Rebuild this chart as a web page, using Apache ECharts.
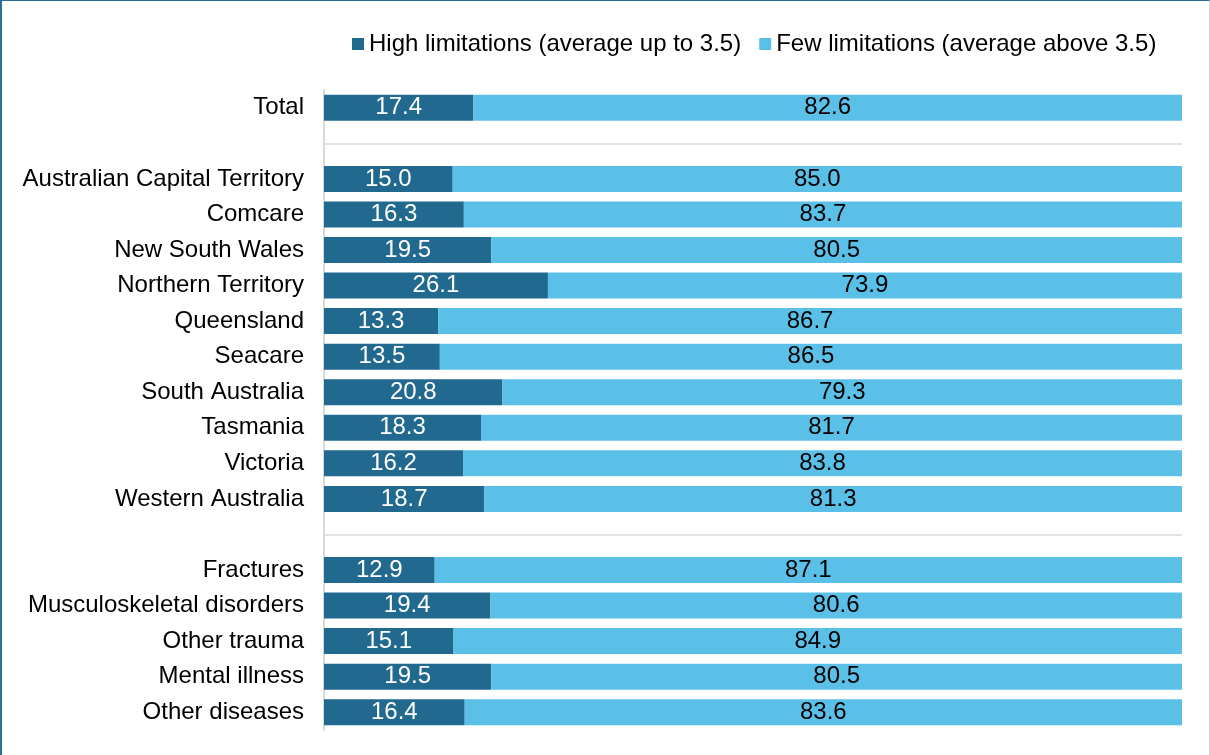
<!DOCTYPE html>
<html>
<head>
<meta charset="utf-8">
<script src="https://cdn.jsdelivr.net/npm/echarts@6/dist/echarts.min.js"></script>
<style>
html, body { margin: 0; padding: 0; background: #fff; }
#chart {
    position: absolute; left: 0; top: 0;
    width: 1207px; height: 754px;
    border-left: 2px solid #2a6f9c;
    border-top: 1px solid #2a6f9c;
    border-right: 1px solid #cdd6df;
}
</style>
</head>
<body>
<div id="chart"></div>
<script>
// rows top to bottom; blank names are the spacer rows between groups
var categories = ['Total', ' ',
    'Australian Capital Territory', 'Comcare', 'New South Wales', 'Northern Territory',
    'Queensland', 'Seacare', 'South Australia', 'Tasmania', 'Victoria', 'Western Australia', '  ',
    'Fractures', 'Musculoskeletal disorders', 'Other trauma', 'Mental illness', 'Other diseases'];
var highLimits = [17.4, null, 15.0, 16.3, 19.5, 26.1, 13.3, 13.5, 20.8, 18.3, 16.2, 18.7, null,
    12.9, 19.4, 15.1, 19.5, 16.4];
var fewLimits = [82.6, null, 85.0, 83.7, 80.5, 73.9, 86.7, 86.5, 79.3, 81.7, 83.8, 81.3, null,
    87.1, 80.6, 84.9, 80.5, 83.6];
var separators = [' ', '  '];

var font = 'Arial, "Liberation Sans", sans-serif';

var chart = echarts.init(document.getElementById('chart'));
chart.setOption({
    animation: false,
    legend: {
        top: 26,
        left: 345,
        itemWidth: 12,
        itemHeight: 12,
        itemGap: 18,
        icon: 'rect',
        textStyle: { fontFamily: font, fontSize: 24, color: '#000' },
        data: ['High limitations (average up to 3.5)', 'Few limitations (average above 3.5)']
    },
    grid: { left: 322, right: 27, top: 89, bottom: 25, containLabel: false },
    xAxis: {
        type: 'value', min: 0, max: 100, show: false
    },
    yAxis: {
        type: 'category',
        inverse: true,
        data: categories,
        axisLine: { show: true, lineStyle: { color: '#d9d9d9', width: 2 } },
        axisTick: { show: false },
        axisLabel: { fontFamily: font, fontSize: 24, color: '#000', margin: 20 }
    },
    series: [{
        name: 'High limitations (average up to 3.5)',
        type: 'bar',
        stack: 'a',
        data: highLimits,
        barWidth: 26,
        itemStyle: { color: '#22698f' },
        label: {
            show: true, position: 'inside', color: '#fff',
            fontFamily: font, fontSize: 24,
            formatter: function (p) { return p.value.toFixed(1); }
        },
        markLine: {
            silent: true,
            symbol: 'none',
            label: { show: false },
            lineStyle: { color: '#d9d9d9', width: 1.5, type: 'solid' },
            data: separators.map(function (s) { return { yAxis: s }; })
        }
    }, {
        name: 'Few limitations (average above 3.5)',
        type: 'bar',
        stack: 'a',
        data: fewLimits,
        barWidth: 26,
        itemStyle: { color: '#5bc0e8' },
        label: {
            show: true, position: 'inside', color: '#000',
            fontFamily: font, fontSize: 24,
            formatter: function (p) { return p.value.toFixed(1); }
        }
    }]
});
</script>
</body>
</html>
